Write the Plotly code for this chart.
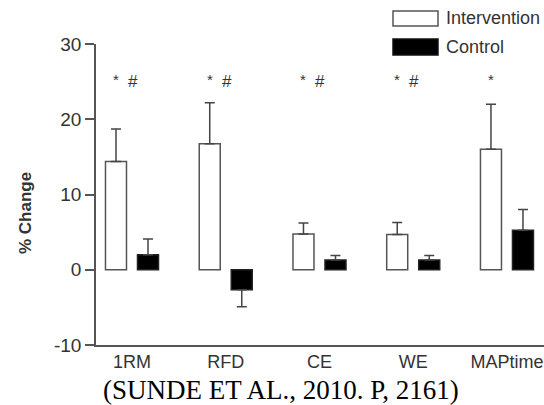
import plotly.graph_objects as go

categories = ["1RM", "RFD", "CE", "WE", "MAPtime"]
intervention = [14.4, 16.75, 4.75, 4.67, 16.0]
intervention_err_up = [4.3, 5.45, 1.45, 1.6, 6.0]
control = [2.0, -2.67, 1.3, 1.3, 5.25]
control_err_up = [2.1, 0.0, 0.6, 0.6, 2.75]
control_err_down = [0.0, 2.25, 0.0, 0.0, 0.0]
sig_star = [True, True, True, True, True]
sig_hash = [True, True, True, True, False]
sig_level = 25
y_ticks = [-10, 0, 10, 20, 30]
y_tick_labels = ["-10", "0", "10", "20", "30"]

W, H = 544, 405
L, R, T, B = 96, 0, 44, 60
FONT = "Liberation Sans, Arial, Helvetica, sans-serif"
GREY = "#555555"
TXT = "#333333"

def px2paper(px, py):
    return (px - L) / (W - L - R), (H - B - py) / (H - T - B)

fig = go.Figure()
fig.add_trace(go.Bar(
    x=categories, y=intervention, name="Intervention",
    marker=dict(color="white", line=dict(color=GREY, width=1.5)),
    error_y=dict(type="data", symmetric=False, array=intervention_err_up,
                 arrayminus=[0] * len(categories), color="#444444", thickness=1.5, width=5),
    showlegend=False,
))
fig.add_trace(go.Bar(
    x=categories, y=control, name="Control",
    marker=dict(color="black", line=dict(color="#222222", width=1.5)),
    error_y=dict(type="data", symmetric=False, array=control_err_up,
                 arrayminus=control_err_down, color="#444444", thickness=1.5, width=5),
    showlegend=False,
))

annotations = []
for i, c in enumerate(categories):
    if sig_star[i]:
        annotations.append(dict(x=c, y=sig_level, xref="x", yref="y", text="*", showarrow=False,
                                xshift=-16, yshift=2, font=dict(family=FONT, size=15, color=TXT)))
    if sig_hash[i]:
        annotations.append(dict(x=c, y=sig_level, xref="x", yref="y", text="#", showarrow=False,
                                xshift=1, font=dict(family=FONT, size=17, color=TXT)))

# y-axis title
ax, ay = px2paper(25, 213)
annotations.append(dict(x=ax, y=ay, xref="paper", yref="paper", text="<b>% Change</b>",
                        textangle=-90, showarrow=False, xanchor="center", yanchor="middle",
                        font=dict(family=FONT, size=17, color=TXT)))

# legend (drawn manually)
shapes = []
for (label, fill, y0, y1) in [("Intervention", "white", 11, 26), ("Control", "black", 39, 55)]:
    x0p, y0p = px2paper(393, y1)
    x1p, y1p = px2paper(438, y0)
    shapes.append(dict(type="rect", xref="paper", yref="paper", x0=x0p, x1=x1p, y0=y0p, y1=y1p,
                       fillcolor=fill, line=dict(color=GREY if fill == "white" else "#111111", width=1.5)))
    tx, ty = px2paper(444, (y0 + y1) / 2)
    annotations.append(dict(x=tx, y=ty, xref="paper", yref="paper", text=label, showarrow=False,
                            xanchor="left", yanchor="middle", font=dict(family=FONT, size=18, color=TXT)))

# caption
cx, cy = px2paper(281, 390)
annotations.append(dict(x=cx, y=cy, xref="paper", yref="paper", text="(SUNDE ET AL., 2010. P, 2161)",
                        showarrow=False, xanchor="center", yanchor="middle",
                        font=dict(family="Liberation Serif, Times New Roman, serif", size=27, color="black")))

fig.update_layout(
    width=W, height=H,
    margin=dict(l=L, r=R, t=T, b=B),
    paper_bgcolor="white", plot_bgcolor="white",
    barmode="group", bargap=0.317, bargroupgap=0.344,
    showlegend=False,
    annotations=annotations, shapes=shapes,
    xaxis=dict(type="category", range=[-0.384, 4.395], showline=True, linecolor=GREY, linewidth=1.5,
               ticks="", showgrid=False, zeroline=False,
               tickfont=dict(family=FONT, size=18, color=TXT)),
    yaxis=dict(range=[-10, 30], tickvals=y_ticks, ticktext=y_tick_labels, showline=True,
               linecolor=GREY, linewidth=1.5,
               ticks="outside", ticklen=9, tickwidth=1.5, tickcolor=GREY, showgrid=False, zeroline=False,
               tickfont=dict(family=FONT, size=19, color=TXT)),
)

fig.write_html("out.html",
               config={"displayModeBar": False},
               post_script="document.body.style.margin='0';document.body.style.padding='0';"
                           "document.body.style.overflow='hidden';")
